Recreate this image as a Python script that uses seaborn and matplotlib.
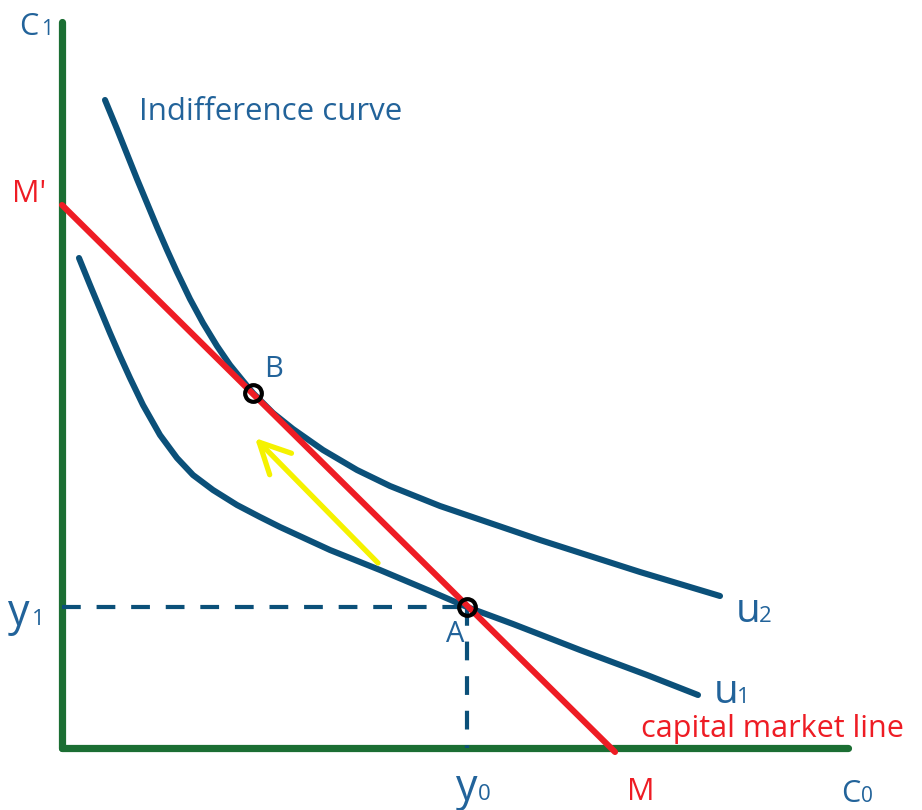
import numpy as np
import pandas as pd
import matplotlib
matplotlib.use("Agg")
import matplotlib.pyplot as plt
import seaborn as sns

# values, origin at the axis corner
u2_c0 = [43, 55, 65, 75, 85, 95, 105, 115, 128, 141, 155, 168, 181, 191, 211, 231, 261,
         295, 328, 378, 428, 478, 528, 578, 628, 658]
u2_c1 = [648, 619, 594, 569, 545, 521, 498, 476, 449, 425, 402, 383, 367, 355, 335, 319, 298,
         278, 262, 242, 225, 208, 192, 176, 161, 152]

u1_c0 = [17, 28, 38, 48, 58, 68, 81, 98, 115, 131, 151, 175, 198, 218, 268, 318,
         368, 405, 451, 518, 585, 636]
u1_c1 = [490, 463, 439, 415, 392, 370, 343, 313, 290, 273, 258, 243, 231, 221, 198, 178,
         157, 141, 124, 98, 73, 53]

cml_c0 = [0, 553]
cml_c1 = [543, -4]

point_names = ["A", "B"]
point_c0 = [405, 191]
point_c1 = [141, 355]

arrow_tail = (316, 185)
arrow_tip = (193, 310)

axis_len_c0 = 786
axis_len_c1 = 726

blue = "#0b5079"
red = "#ee1c24"
green = "#1b6e33"
txt_blue = "#22639a"
yellow = "#f5f200"

sns.set_style("white")
plt.rcParams["font.family"] = ["Open Sans", "DejaVu Sans"]

fig = plt.figure(figsize=(9.22, 8.10), dpi=100)
ax = fig.add_axes([0, 0, 1, 1])
ax.set_xlim(-62, 860)
ax.set_ylim(-62, 748)
ax.axis("off")

# axes of the diagram
ax.plot([0, 0], [0, axis_len_c1], color=green, lw=5.2, solid_capstyle="round", zorder=2)
ax.plot([0, axis_len_c0], [0, 0], color=green, lw=5.2, solid_capstyle="round", zorder=2)

# dashed guides to A
a_x, a_y = point_c0[0], point_c1[0]
ax.plot([0, a_x], [a_y, a_y], color=blue, lw=3, ls=(0, (4.5, 3.8)), zorder=3)
ax.plot([a_x, a_x], [a_y, 0], color=blue, lw=3, ls=(0, (4.5, 3.8)), zorder=3)

# indifference curves
for xs, ys in [(u2_c0, u2_c1), (u1_c0, u1_c1)]:
    sns.lineplot(x=xs, y=ys, ax=ax, color=blue, lw=4.4, sort=False, estimator=None,
                 solid_capstyle="round", solid_joinstyle="round", zorder=4)

# capital market line
sns.lineplot(x=cml_c0, y=cml_c1, ax=ax, color=red, lw=4.4, sort=False, estimator=None,
             solid_capstyle="round", zorder=5)

# tangency / endowment points
ax.plot(point_c0, point_c1, "o", ms=12, mfc="none", mec="black", mew=3.0, zorder=6)

# yellow arrow A -> B
ax.annotate("", xy=arrow_tip, xytext=arrow_tail,
            arrowprops=dict(arrowstyle="->,head_length=2.2,head_width=1.1",
                            lw=3.8, color=yellow, shrinkA=0, shrinkB=0), zorder=6)


def label(x, y, s, color=txt_blue, size=22, sub=None, sub_x=None, sub_size=15):
    ax.text(x, y, s, color=color, fontsize=size, ha="left", va="baseline", zorder=7)
    if sub is not None:
        ax.text(sub_x, y, sub, color=color, fontsize=sub_size, ha="left", va="baseline", zorder=7)


label(-43, 713, "C", size=22, sub="1", sub_x=-21, sub_size=15)
label(-50, 546, "M'", color=red, size=22)
label(77, 628, "Indifference curve", size=22.5)
label(202, 371, "B", size=21)
label(384, 106, "A", size=21)
label(-54, 123, "y", size=31, sub="1", sub_x=-30, sub_size=16)
label(394, -52, "y", size=31, sub="0", sub_x=416, sub_size=16)
label(565, -52, "M", color=red, size=22)
label(779, -54, "C", size=22, sub="0", sub_x=799, sub_size=15)
label(674, 126, "u", size=29, sub="2", sub_x=697, sub_size=16)
label(652, 45, "u", size=29, sub="1", sub_x=675, sub_size=16)
label(579, 11, "capital market line", color=red, size=22)

fig.savefig("out.png", dpi=100)
